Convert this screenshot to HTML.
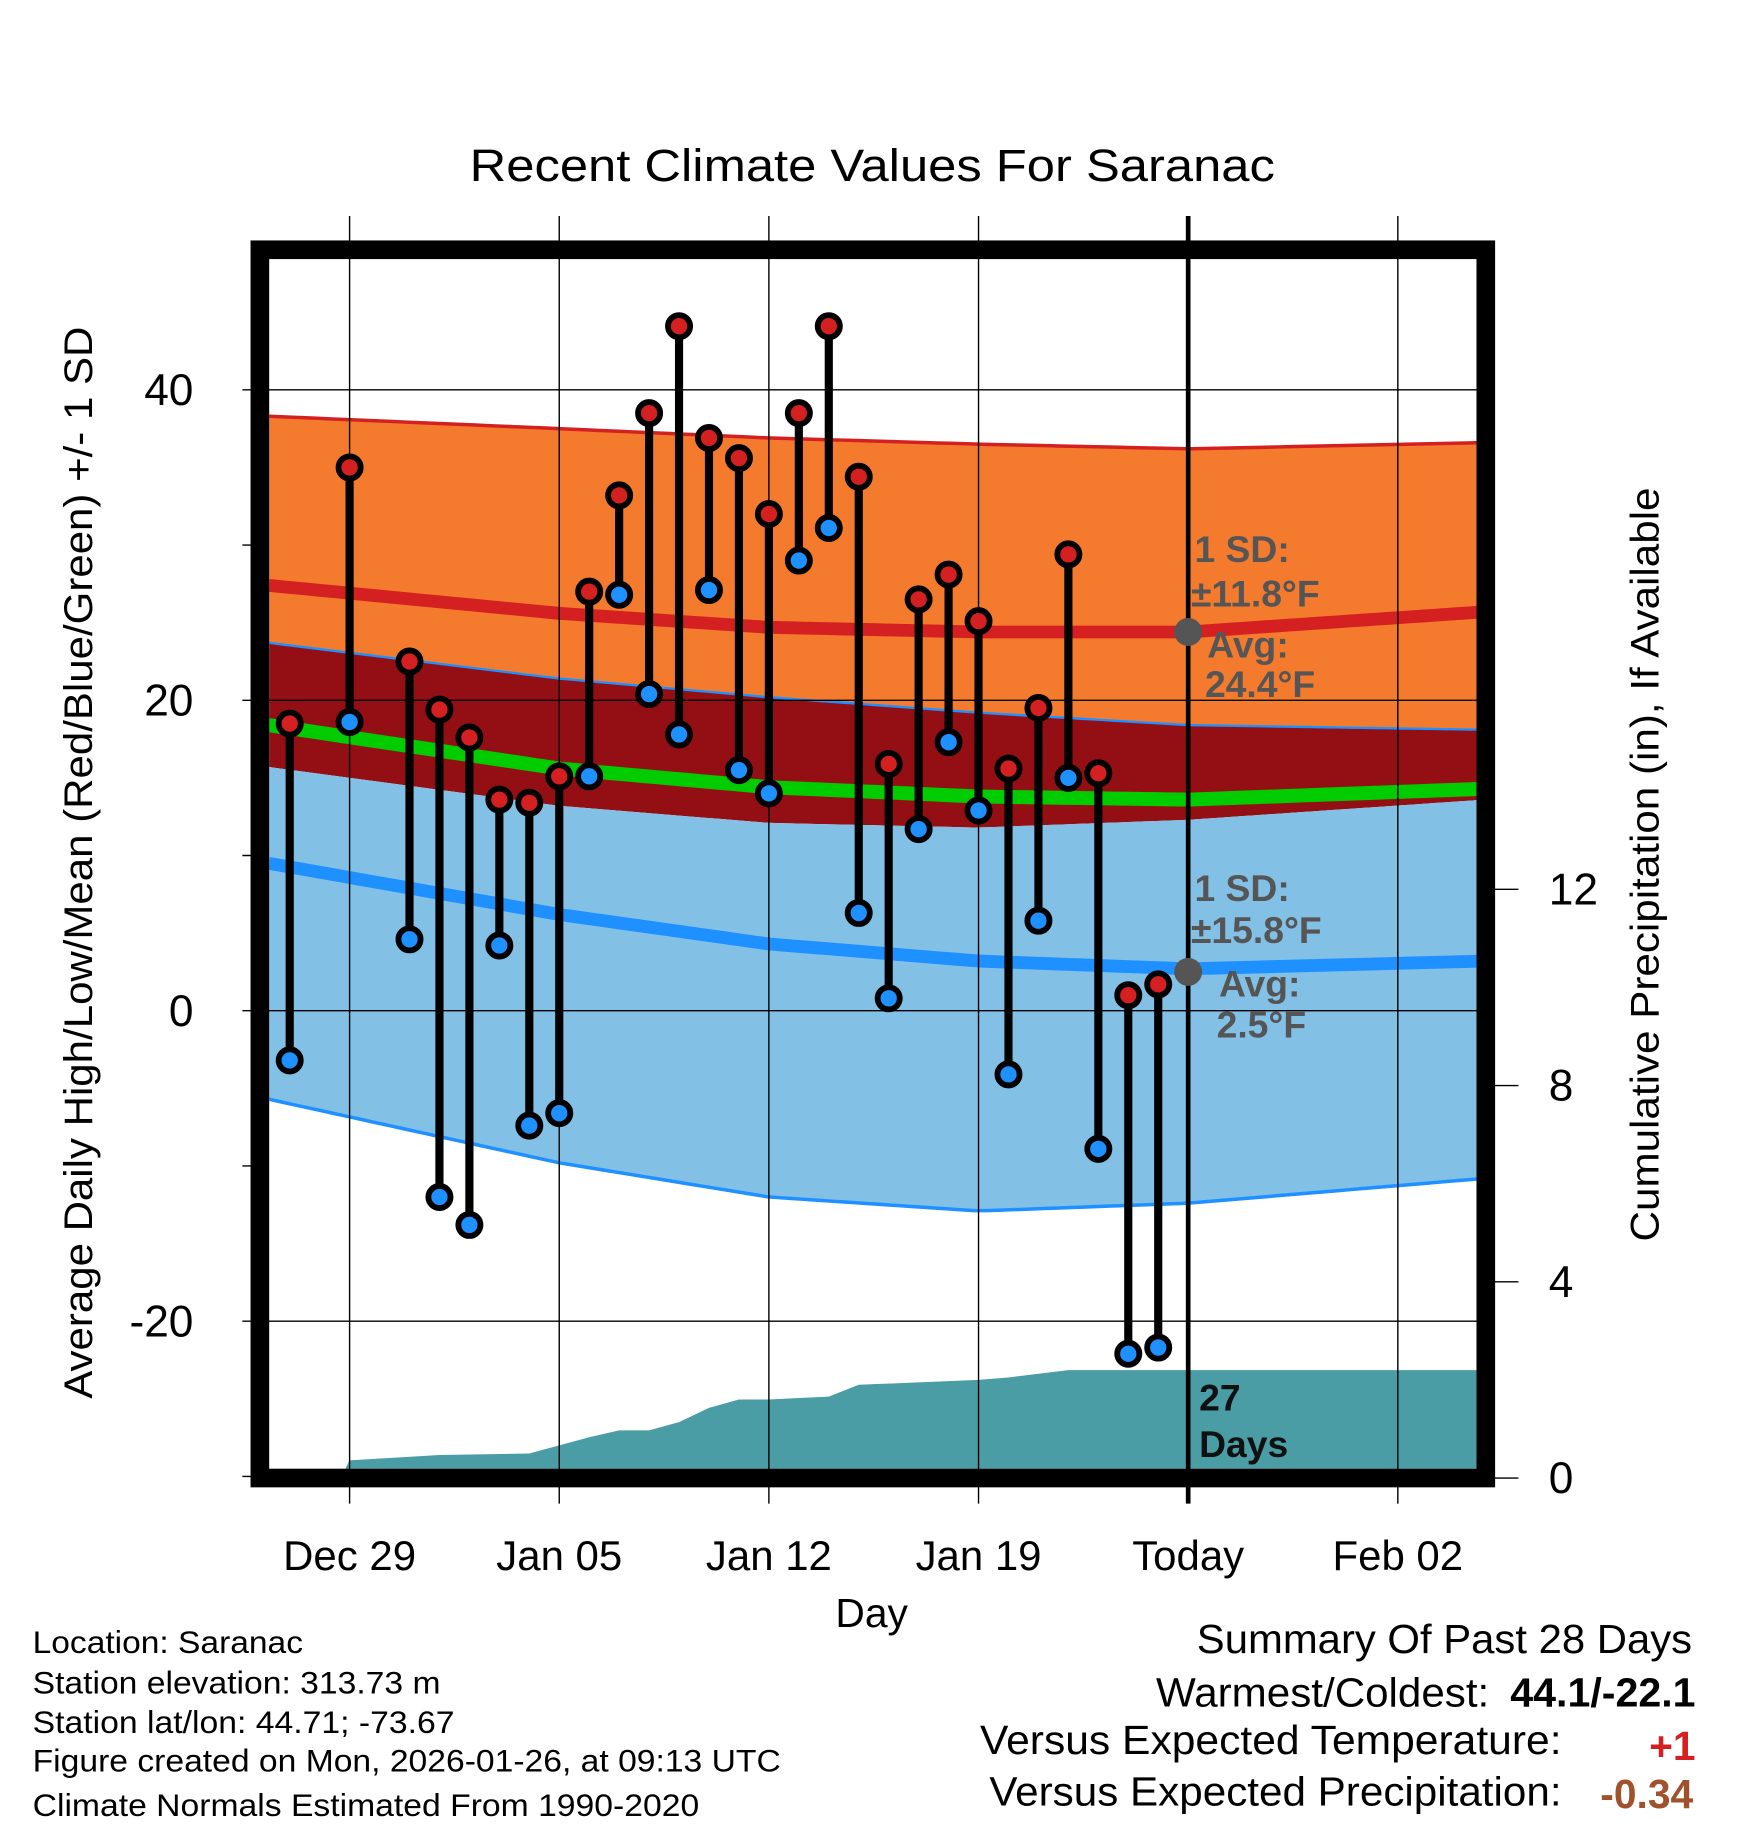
<!DOCTYPE html>
<html><head><meta charset="utf-8"><style>
html,body{margin:0;padding:0;background:#fff}
svg{display:block;font-family:"Liberation Sans",Arial,sans-serif}
</style></head><body>
<svg id="chart" width="1748" height="1828" viewBox="0 0 1500 1568" xmlns="http://www.w3.org/2000/svg">
<defs><clipPath id="pc"><rect x="231" y="222" width="1036" height="1038"/></clipPath></defs>
<text x="403" y="155" font-size="39" textLength="691" lengthAdjust="spacingAndGlyphs">Recent Climate Values For Saranac</text>
<g id="bands" clip-path="url(#pc)"></g>
<g id="grid"></g>
<g id="marks"></g>
<g id="texts"></g>
<rect x="223" y="214" width="1052" height="1054" fill="none" stroke="#000" stroke-width="16"/>
<text transform="translate(79,1200) rotate(-90)" font-size="34" textLength="920" lengthAdjust="spacingAndGlyphs">Average Daily High/Low/Mean (Red/Blue/Green) +/- 1 SD</text>
<text transform="translate(1423,1065) rotate(-90)" font-size="34" textLength="647" lengthAdjust="spacingAndGlyphs">Cumulative Precipitation (in), If Available</text>
<text x="748" y="1396" font-size="35" text-anchor="middle">Day</text>
<g font-size="27">
<text x="28" y="1418" textLength="232" lengthAdjust="spacingAndGlyphs">Location: Saranac</text>
<text x="28" y="1453" textLength="350" lengthAdjust="spacingAndGlyphs">Station elevation: 313.73 m</text>
<text x="28" y="1487" textLength="362" lengthAdjust="spacingAndGlyphs">Station lat/lon: 44.71; -73.67</text>
<text x="28" y="1520" textLength="642" lengthAdjust="spacingAndGlyphs">Figure created on Mon, 2026-01-26, at 09:13 UTC</text>
<text x="28" y="1558" textLength="572" lengthAdjust="spacingAndGlyphs">Climate Normals Estimated From 1990-2020</text>
</g>
<g font-size="35">
<text x="1027" y="1418" textLength="425" lengthAdjust="spacingAndGlyphs">Summary Of Past 28 Days</text>
<text x="992" y="1464" textLength="286" lengthAdjust="spacingAndGlyphs">Warmest/Coldest:</text>
<text x="1296" y="1464" font-weight="bold" textLength="159" lengthAdjust="spacingAndGlyphs">44.1/-22.1</text>
<text x="841" y="1505" textLength="499" lengthAdjust="spacingAndGlyphs">Versus Expected Temperature:</text>
<text x="1455" y="1510" text-anchor="end" font-weight="bold" fill="#d42020">+1</text>
<text x="849" y="1549" textLength="491" lengthAdjust="spacingAndGlyphs">Versus Expected Precipitation:</text>
<text x="1453" y="1551" text-anchor="end" font-weight="bold" fill="#a0522d">-0.34</text>
</g>
</svg>
<script>
const bandDays=[-2.7,7,14,21,28,37.9];
const highPlusSD=[38.3,37.5,36.9,36.5,36.2,36.6];
const avgHigh=[27.4,25.6,24.7,24.4,24.4,25.7];
const highMinusSD=[23.7,21.4,20.2,19.2,18.4,18.1];
const avgMean=[18.4,15.6,14.4,13.8,13.6,14.3];
const lowPlusSD=[15.7,13.2,12.1,11.8,12.3,13.6];
const avgLow=[9.5,6.2,4.3,3.2,2.7,3.2];
const lowMinusSD=[-5.7,-9.8,-12.0,-12.9,-12.4,-10.8];
const obsDays=[-2,0,2,3,4,5,6,7,8,9,10,11,12,13,14,15,16,17,18,19,20,21,22,23,24,25,26,27];
const obsHigh=[18.5,35.0,22.5,19.4,17.6,13.6,13.4,15.1,27.0,33.2,38.5,44.1,36.9,35.6,32.0,38.5,44.1,34.4,15.9,26.5,28.1,25.1,15.6,19.5,29.4,15.3,1.0,1.7];
const obsLow=[-3.2,18.6,4.6,-12.0,-13.8,4.2,-7.4,-6.6,15.1,26.8,20.4,17.8,27.1,15.5,14.0,29.0,31.1,6.3,0.8,11.7,17.3,12.9,-4.1,5.8,15.0,-8.9,-22.1,-21.7];
const precipDays=[-0.3,0,3,6,8,9,10,11,12,13,14,16,17,19,21,22,24,28,37.9];
const precipVals=[0,0.36,0.47,0.5,0.83,0.97,0.97,1.14,1.43,1.6,1.6,1.66,1.9,1.95,2.0,2.05,2.2,2.2,2.2];
const yTicks=[40,20,0,-20];
const y2Ticks=[0,4,8,12];
const xTickDays=[0,7,14,21,28,35];
const xTickLabels=["Dec 29","Jan 05","Jan 12","Jan 19","Today","Feb 02"];

const NS="http://www.w3.org/2000/svg";
const X=d=>300+d*25.7;
const Y=t=>867-t*13.32;
const Y2=p=>1268-p*42.1;
function mk(tag,attrs,parent){const e=document.createElementNS(NS,tag);for(const k in attrs)e.setAttribute(k,attrs[k]);parent.appendChild(e);return e;}
function interp(arr,d){let i=0;while(i<bandDays.length-2&&d>bandDays[i+1])i++;const t=(d-bandDays[i])/(bandDays[i+1]-bandDays[i]);return arr[i]+(arr[i+1]-arr[i])*t;}
function smooth(arr){const pts=[];const d0=bandDays[0],d1=bandDays[bandDays.length-1];for(let k=0;k<=100;k++){const d=d0+(d1-d0)*k/100;pts.push([X(d),Y(interp(arr,d))]);}return pts;}
function area(a,b){const p=smooth(a),q=smooth(b).reverse();return "M"+p.concat(q).map(v=>v.join(",")).join("L")+"Z";}
function line(a){return "M"+smooth(a).map(v=>v.join(",")).join("L");}
const bands=document.getElementById('bands');
let e;
e=mk('path',{d:area(highPlusSD,highMinusSD),fill:'#f47b2e'},bands);


e=mk('path',{d:area(highMinusSD,lowPlusSD),fill:'#940f14'},bands);


e=mk('path',{d:area(lowPlusSD,lowMinusSD),fill:'#82c0e6'},bands);


e=mk('path',{d:line(highPlusSD),fill:'none',stroke:'#d42020','stroke-width':3},bands);


e=mk('path',{d:line(avgHigh),fill:'none',stroke:'#d42020','stroke-width':11},bands);


e=mk('path',{d:line(highMinusSD),fill:'none',stroke:'#1e90ff','stroke-width':2},bands);


e=mk('path',{d:line(avgMean),fill:'none',stroke:'#00cc00','stroke-width':12},bands);


e=mk('path',{d:line(avgLow),fill:'none',stroke:'#1e90ff','stroke-width':11},bands);


e=mk('path',{d:line(lowMinusSD),fill:'none',stroke:'#1e90ff','stroke-width':3},bands);


let pd="M"+X(precipDays[0])+","+Y2(0);
precipDays.forEach((d,i)=>{pd+="L"+X(d)+","+Y2(precipVals[i]);});
pd+="L"+X(precipDays[precipDays.length-1])+","+Y2(0)+"Z";
e=mk('path',{d:pd,fill:'#4a9da5'},bands);



const grid=document.getElementById('grid');
yTicks.forEach(t=>{
 e=mk('line',{x1:208,x2:1267,y1:Y(t),y2:Y(t),stroke:'#000','stroke-width':1.2},grid);
 
 
 e=mk('text',{x:166,y:Y(t)+13,'font-size':38,'text-anchor':'end'},grid);e.textContent=t;
 
 
});
[30,10,-10,-30].forEach(t=>{e=mk('line',{x1:208,x2:223,y1:Y(t),y2:Y(t),stroke:'#000','stroke-width':1.2},grid);
 
 });
y2Ticks.forEach(p=>{
 e=mk('line',{x1:1275,x2:1303,y1:Y2(p),y2:Y2(p),stroke:'#000','stroke-width':1.2},grid);
 
 
 e=mk('text',{x:1329,y:Y2(p)+13,'font-size':38},grid);e.textContent=p;
 
 
});
xTickDays.forEach((d,i)=>{
 const today=xTickLabels[i]==="Today";
 e=mk('line',{x1:X(d),x2:X(d),y1:185,y2:1290,stroke:'#000','stroke-width':today?4:1.2},grid);
 
 
 e=mk('text',{x:X(d),y:1347,'font-size':36,'text-anchor':'middle'},grid);e.textContent=xTickLabels[i];
 
 
});
const marks=document.getElementById('marks');
obsDays.forEach((d,i)=>{
 e=mk('line',{x1:X(d),x2:X(d),y1:Y(obsHigh[i]),y2:Y(obsLow[i]),stroke:'#000','stroke-width':7},marks);
 
 
 e=mk('circle',{cx:X(d),cy:Y(obsHigh[i]),r:9.5,fill:'#d42020',stroke:'#000','stroke-width':5},marks);
 
 
 e=mk('circle',{cx:X(d),cy:Y(obsLow[i]),r:9.5,fill:'#1e90ff',stroke:'#000','stroke-width':5},marks);
 
 
});
const tx=document.getElementById('texts');
e=mk('circle',{cx:X(28),cy:Y(24.4),r:12,fill:'#555'},tx);


e=mk('circle',{cx:X(28),cy:Y(2.5),r:12,fill:'#555'},tx);


const ann=[["1 SD:",1025,482],["±11.8°F",1022,520],["Avg:",1036,564],["24.4°F",1034,598],["1 SD:",1025,773],["±15.8°F",1022,809],["Avg:",1046,855],["2.5°F",1044,890]];
ann.forEach(a=>{e=mk('text',{x:a[1],y:a[2],'font-size':32,'font-weight':'bold',fill:'#555'},tx);e.textContent=a[0];
 
 });
e=mk('text',{x:1029,y:1210,'font-size':32,'font-weight':'bold',fill:'#111'},tx);e.textContent="27";


e=mk('text',{x:1029,y:1250,'font-size':32,'font-weight':'bold',fill:'#111'},tx);e.textContent="Days";


</script>
</body></html>
